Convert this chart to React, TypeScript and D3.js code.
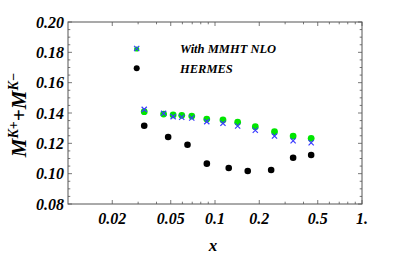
import React from 'react'
import * as d3 from 'd3'

// HERMES multiplicities (black dots)
const hermesX = [0.033, 0.048, 0.065, 0.088, 0.124, 0.167, 0.241, 0.34, 0.451]
const hermesY = [0.1316, 0.1242, 0.1191, 0.1066, 0.1037, 0.1018, 0.1024, 0.1105, 0.1123]

// MMHT NLO predictions: green dots and blue crosses share x
const mmhtX = [0.033, 0.0447, 0.0519, 0.0594, 0.0695, 0.0879, 0.1133, 0.1426, 0.188, 0.254, 0.34, 0.451]
const greenY = [0.1409, 0.1393, 0.1387, 0.1385, 0.138, 0.136, 0.1354, 0.1339, 0.131, 0.1277, 0.1248, 0.1233]
const blueY = [0.1424, 0.1398, 0.1376, 0.1372, 0.1367, 0.1343, 0.1332, 0.1314, 0.1286, 0.1248, 0.1217, 0.1204]

const xTickVals = [0.02, 0.05, 0.1, 0.2, 0.5, 1]
const xTickLabels = ['0.02', '0.05', '0.1', '0.2', '0.5', '1.']
const yTickVals = [0.08, 0.1, 0.12, 0.14, 0.16, 0.18, 0.2]
const legendLabels = ['With MMHT NLO', 'HERMES']

const W = 415
const H = 259
const frame = { left: 68, right: 362, top: 22, bottom: 204 }
const font = '"Liberation Serif", "DejaVu Serif", serif'
const frameColor = '#555'

const Cross = ({ x, y }: { x: number; y: number }) => {
  const s = 2.6
  return (
    <path
      d={`M${x - s},${y - s}L${x + s},${y + s}M${x + s},${y - s}L${x - s},${y + s}`}
      stroke="#3b3bff"
      strokeWidth={1.2}
      fill="none"
    />
  )
}

const App = () => {
  const x = d3.scaleLog().domain([0.01, 1]).range([frame.left, frame.right])
  const y = d3.scaleLinear().domain([0.08, 0.2]).range([frame.bottom, frame.top])

  // minor log ticks
  const xMinor: number[] = []
  for (const dec of [0.01, 0.1]) {
    for (let k = 1; k < 10; k++) {
      const v = +(dec * k).toFixed(3)
      if (!xTickVals.includes(v) && v > 0.01) xMinor.push(v)
    }
  }
  const yMinor = d3.range(0.08, 0.2001, 0.005).filter(v => !yTickVals.some(t => Math.abs(t - v) < 1e-6))

  const major = 4
  const minor = 2.3

  return (
    <div style={{ position: 'absolute', left: 0, top: 0 }}>
      <svg width={W} height={H} style={{ display: 'block', background: '#fff' }}>
        {/* frame */}
        <rect
          x={frame.left}
          y={frame.top}
          width={frame.right - frame.left}
          height={frame.bottom - frame.top}
          fill="none"
          stroke={frameColor}
          strokeWidth={1}
        />
        {/* x ticks, bottom and top */}
        <g stroke={frameColor} strokeWidth={0.8}>
          {xTickVals.map(v => (
            <g key={'xt' + v}>
              <line x1={x(v)} x2={x(v)} y1={frame.bottom} y2={frame.bottom - major} />
              <line x1={x(v)} x2={x(v)} y1={frame.top} y2={frame.top + major} />
            </g>
          ))}
          {xMinor.map(v => (
            <g key={'xm' + v}>
              <line x1={x(v)} x2={x(v)} y1={frame.bottom} y2={frame.bottom - minor} />
              <line x1={x(v)} x2={x(v)} y1={frame.top} y2={frame.top + minor} />
            </g>
          ))}
          {yTickVals.map(v => (
            <g key={'yt' + v}>
              <line x1={frame.left} x2={frame.left + major} y1={y(v)} y2={y(v)} />
              <line x1={frame.right} x2={frame.right - major} y1={y(v)} y2={y(v)} />
            </g>
          ))}
          {yMinor.map(v => (
            <g key={'ym' + v}>
              <line x1={frame.left} x2={frame.left + minor} y1={y(v)} y2={y(v)} />
              <line x1={frame.right} x2={frame.right - minor} y1={y(v)} y2={y(v)} />
            </g>
          ))}
        </g>
        {/* tick labels */}
        <g fontFamily={font} fontWeight="bold" fontStyle="italic" fontSize={16} fill="#000">
          {xTickVals.map((v, i) => (
            <text key={'xl' + v} x={x(v)} y={223.5} textAnchor="middle">
              {xTickLabels[i]}
            </text>
          ))}
          {yTickVals.map(v => (
            <text key={'yl' + v} x={64} y={y(v) + 5.5} textAnchor="end">
              {v.toFixed(2)}
            </text>
          ))}
        </g>
        {/* axis titles */}
        <text x={213} y={251} textAnchor="middle" fontFamily={font} fontWeight="bold" fontStyle="italic" fontSize={17}>
          x
        </text>
        <text
          transform={`translate(26,${(frame.top + frame.bottom) / 2 + 2}) rotate(-90)`}
          textAnchor="middle"
          fontFamily={font}
          fontWeight="bold"
          fontStyle="italic"
          fontSize={21}
        >
          M
          <tspan fontSize={14} dy={-8}>K+</tspan>
          <tspan dy={8}>+M</tspan>
          <tspan fontSize={14} dy={-8}>K−</tspan>
        </text>
        {/* data */}
        {mmhtX.map((v, i) => (
          <circle key={'g' + i} cx={x(v)} cy={y(greenY[i])} r={3.4} fill="#00e600" />
        ))}
        {mmhtX.map((v, i) => (
          <Cross key={'b' + i} x={x(v)} y={y(blueY[i])} />
        ))}
        {hermesX.map((v, i) => (
          <circle key={'h' + i} cx={x(v)} cy={y(hermesY[i])} r={3.3} fill="#000" />
        ))}
        {/* legend */}
        <circle cx={136.7} cy={49} r={2.6} fill="#00e600" />
        <Cross x={136.7} y={48.5} />
        <circle cx={136.7} cy={68.3} r={3} fill="#000" />
        <g fontFamily={font} fontWeight="bold" fontStyle="italic" fontSize={12.5}>
          <text x={180} y={53}>{legendLabels[0]}</text>
          <text x={180} y={72.5}>{legendLabels[1]}</text>
        </g>
      </svg>
    </div>
  )
}

export default App
